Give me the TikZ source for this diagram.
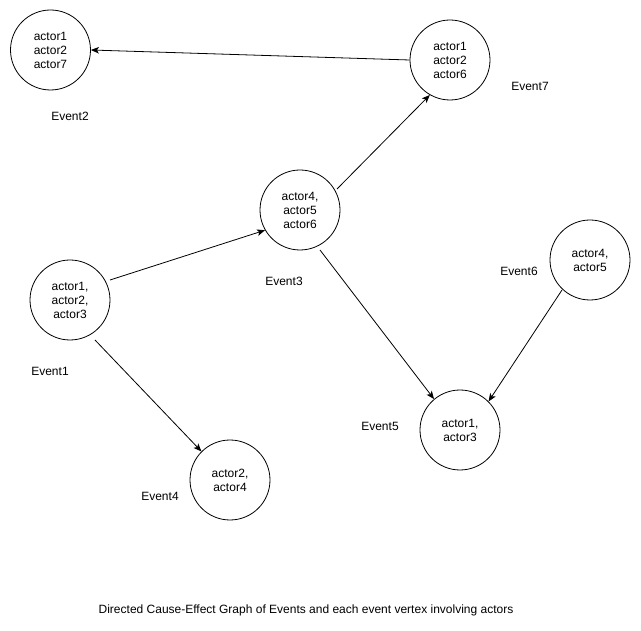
\documentclass[tikz,border=0pt]{standalone}
\usepackage{fontspec}
\setmainfont{Liberation Sans}
\usetikzlibrary{arrows.meta}
\begin{document}
\begin{tikzpicture}[x=1pt,y=-1pt,
  ev/.style={circle,draw,line width=0.8pt,minimum size=80pt,inner sep=0pt,align=center,font=\fontsize{12}{14}\selectfont},
  lbl/.style={font=\fontsize{12}{14}\selectfont,inner sep=0pt},
  link/.style={line width=0.8pt,-{Stealth[length=8pt,width=6.5pt,inset=2pt]}}]
\useasboundingbox[fill=white] (0,0) rectangle (641,631);
\node[ev] (e2) at (50.5,50) {actor1\\actor2\\actor7};
\node[ev] (e7) at (450,60) {actor1\\actor2\\actor6};
\node[ev] (e3) at (300,210) {actor4,\\actor5\\actor6};
\node[ev] (e1) at (70,300) {actor1,\\actor2,\\actor3};
\node[ev] (e6) at (590,260) {actor4,\\actor5};
\node[ev] (e5) at (460,430) {actor1,\\actor3};
\node[ev] (e4) at (230,480) {actor2,\\actor4};
\node[lbl] (l2) at (70,116) {Event2};
\node[lbl] (l7) at (530,86) {Event7};
\node[lbl] (l3) at (284,281) {Event3};
\node[lbl] (l1) at (50,371) {Event1};
\node[lbl] (l6) at (519,271) {Event6};
\node[lbl] (l5) at (380,426) {Event5};
\node[lbl] (l4) at (160,496) {Event4};
\node[lbl] (cap) at (306,610) {Directed Cause-Effect Graph of Events and each event vertex involving actors};
\coordinate (a1) at (110,280);
\coordinate (a2) at (95,340);
\coordinate (a3) at (337,189);
\coordinate (a4) at (320,250);
\coordinate (a6) at (562,290);
\draw[link] (e7.west) -- (e2.east);
\draw[link] (a3) -- (e7.-120);
\draw[link] (a1) -- (e3.-150);
\draw[link] (a4) -- (e5.130);
\draw[link] (a6) -- (e5.45);
\draw[link] (a2) -- (e4.135);
\end{tikzpicture}
\end{document}
